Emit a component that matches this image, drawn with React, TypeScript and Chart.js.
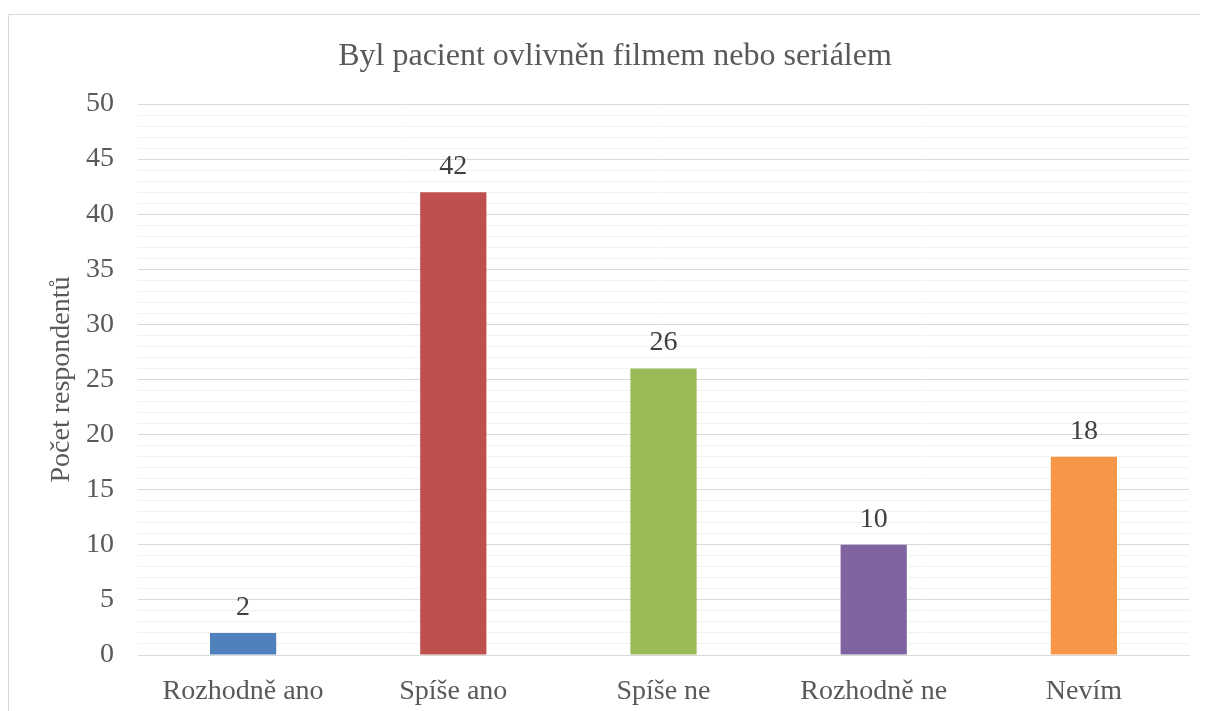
import React, { useEffect, useRef } from "react";
import { Chart, registerables } from "chart.js";

Chart.register(...registerables);

const categories = ["Rozhodně ano", "Spíše ano", "Spíše ne", "Rozhodně ne", "Nevím"];
const values = [2, 42, 26, 10, 18];
const barColors = ["#4f81bd", "#c0504d", "#9bbb59", "#8064a2", "#f79646"];
const chartTitle = "Byl pacient ovlivněn filmem nebo seriálem";
const yAxisTitle = "Počet respondentů";
const yMin = 0;
const yMax = 50;
const yMajorStep = 5;

const FONT = '"Liberation Serif", "Times New Roman", serif';

const framePlugin = {
  id: "frame",
  beforeDraw(chart: any) {
    const ctx = chart.ctx;
    ctx.save();
    ctx.strokeStyle = "#d9d9d9";
    ctx.lineWidth = 1;
    ctx.beginPath();
    ctx.moveTo(0.5, chart.height);
    ctx.lineTo(0.5, 6.5);
    ctx.lineTo(chart.width, 6.5);
    ctx.stroke();
    ctx.restore();
  },
};

const titlePlugin = {
  id: "customTitle",
  afterDraw(chart: any) {
    const ctx = chart.ctx;
    ctx.save();
    ctx.font = `32px ${FONT}`;
    ctx.fillStyle = "#595959";
    ctx.textAlign = "center";
    ctx.textBaseline = "middle";
    ctx.fillText(chartTitle, 607, 49);
    ctx.restore();
  },
};

const valueLabelPlugin = {
  id: "valueLabels",
  afterDatasetsDraw(chart: any) {
    const ctx = chart.ctx;
    const meta = chart.getDatasetMeta(0);
    ctx.save();
    ctx.font = `28px ${FONT}`;
    ctx.fillStyle = "#404040";
    ctx.textAlign = "center";
    ctx.textBaseline = "alphabetic";
    meta.data.forEach((bar: any, i: number) => {
      ctx.fillText(String(values[i]), bar.x, bar.y - 18);
    });
    ctx.restore();
  },
};

export default function App() {
  const canvasRef = useRef<HTMLCanvasElement>(null);

  useEffect(() => {
    document.body.style.overflow = "hidden";
    if (!canvasRef.current) return;
    const chart = new Chart(canvasRef.current, {
      type: "bar",
      data: {
        labels: categories,
        datasets: [
          {
            data: values,
            backgroundColor: barColors,
            borderWidth: 0,
            barPercentage: 0.63,
            categoryPercentage: 0.5,
          },
        ],
      },
      options: {
        animation: false,
        responsive: false,
        maintainAspectRatio: false,
        layout: { padding: { top: 96, right: 19, bottom: 0, left: 0 } },
        plugins: {
          legend: { display: false },
          title: { display: false },
          tooltip: { enabled: false },
        },
        scales: {
          x: {
            grid: { display: false },
            border: { display: true, color: "#d9d9d9", width: 1 },
            ticks: {
              color: "#595959",
              font: { family: FONT, size: 28 },
              padding: 12,
              maxRotation: 0,
              autoSkip: false,
            },
            afterFit: (scale: any) => {
              scale.height = 56;
            },
          },
          y: {
            min: yMin,
            max: yMax,
            border: { display: false },
            grid: {
              color: (c: any) =>
                c.tick && c.tick.value % yMajorStep === 0 ? "#d9d9d9" : "#f2f2f2",
              lineWidth: 1,
              drawTicks: false,
            },
            ticks: {
              stepSize: 1,
              autoSkip: false,
              color: "#595959",
              font: { family: FONT, size: 28 },
              padding: 24,
              callback: (v: any) => (Number(v) % yMajorStep === 0 ? String(v) : ""),
            },
            title: {
              display: true,
              text: yAxisTitle,
              color: "#595959",
              font: { family: FONT, size: 28 },
              padding: { top: 37, bottom: 0 },
            },
            afterFit: (scale: any) => {
              scale.width = 130;
            },
          },
        },
      },
      plugins: [framePlugin, titlePlugin, valueLabelPlugin],
    });
    return () => chart.destroy();
  }, []);

  return (
    <div style={{ width: 1200, height: 703 }}>
      <canvas ref={canvasRef} width={1200} height={703} style={{ display: "block" }} />
    </div>
  );
}
